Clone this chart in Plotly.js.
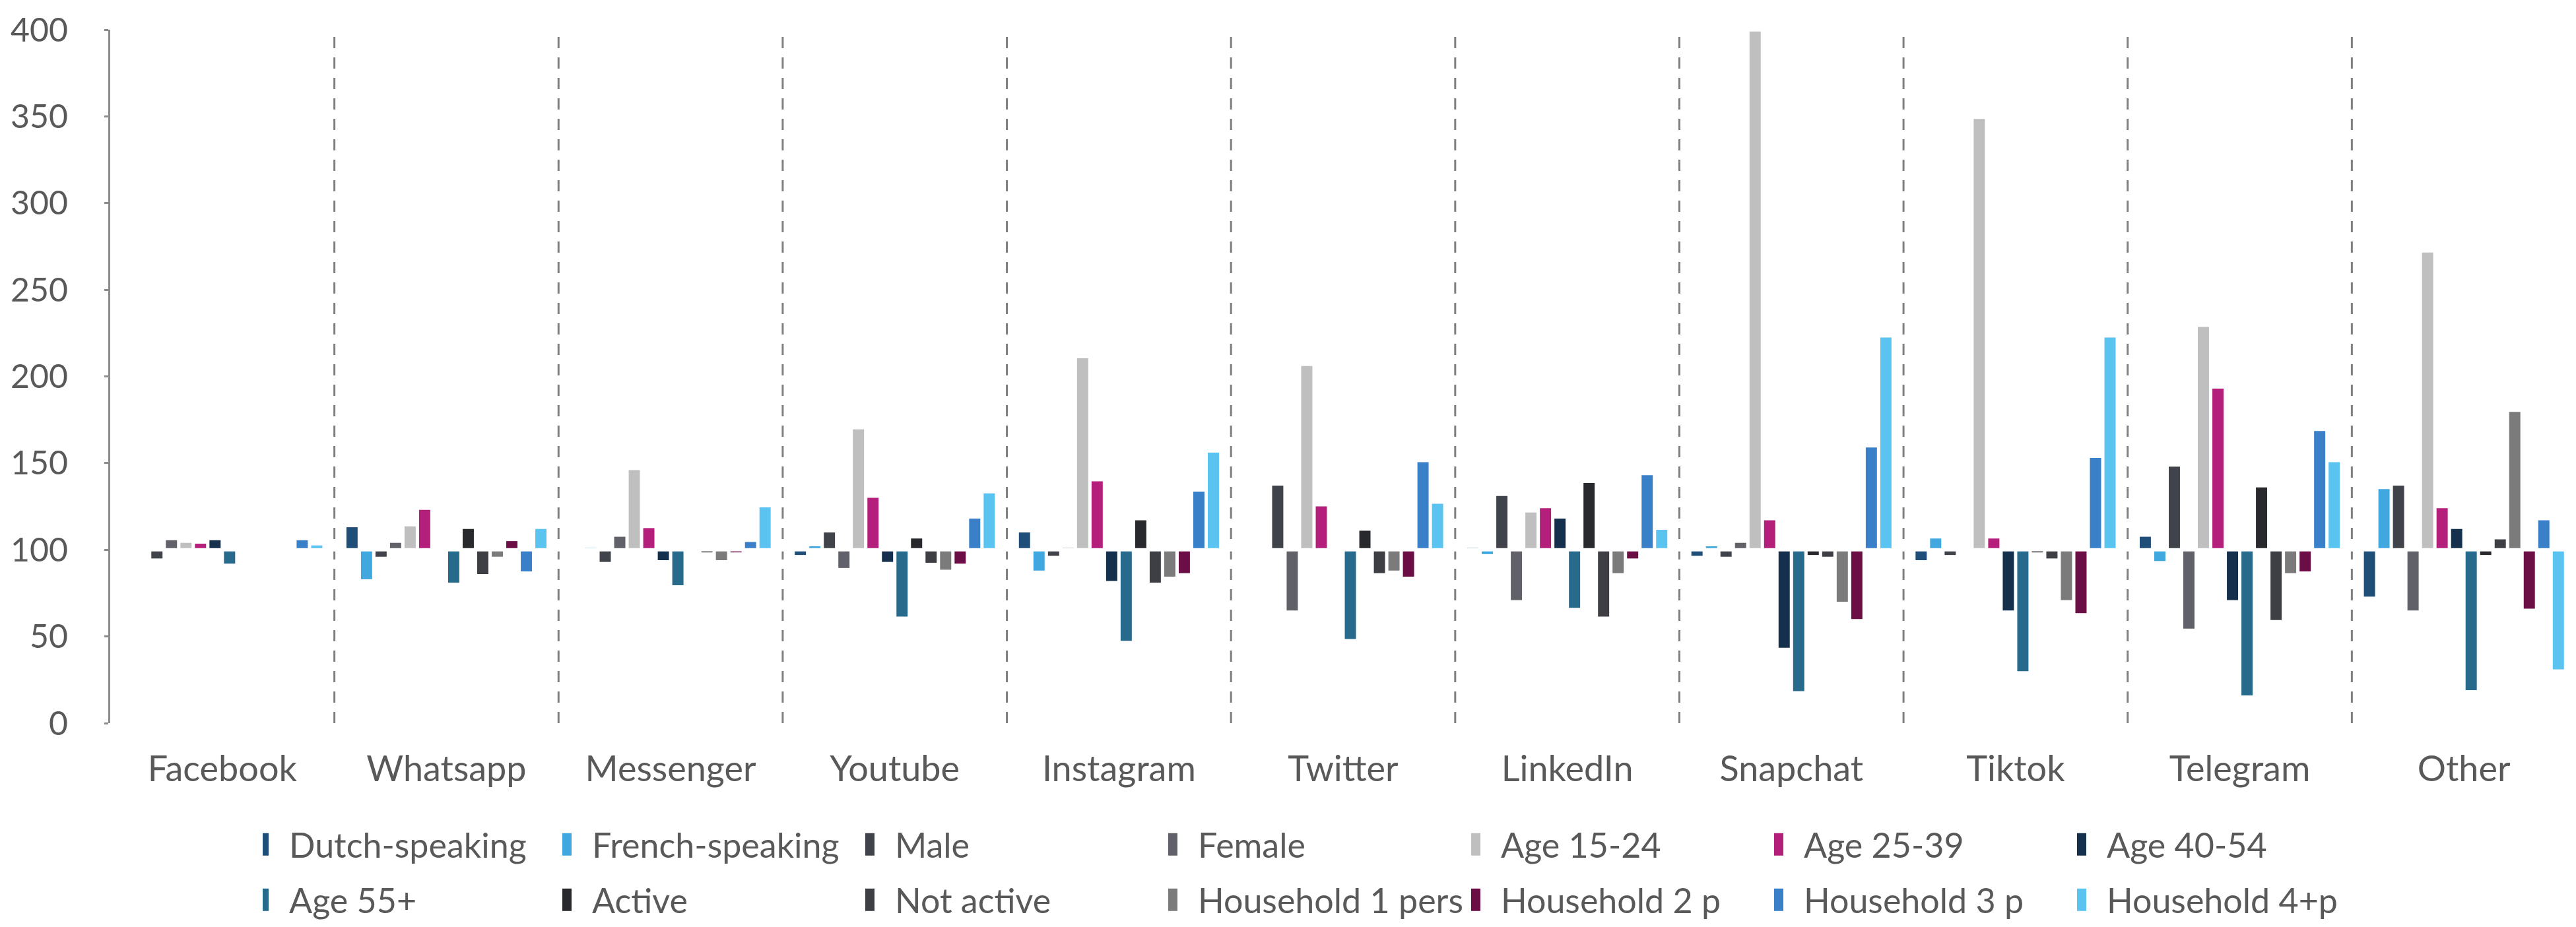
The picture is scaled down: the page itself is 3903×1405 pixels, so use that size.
<!DOCTYPE html>
<html>
<head>
<meta charset="utf-8">
<script src="https://cdn.plot.ly/plotly-3.0.1.min.js"></script>
<style>
  html, body { margin: 0; padding: 0; background: #ffffff; }
  #chart { width: 3903px; height: 1405px; }
</style>
</head>
<body>
<div id="chart"></div>
<script>
// ---------------- DATA ----------------
const categories = ['Facebook', 'Whatsapp', 'Messenger', 'Youtube', 'Instagram', 'Twitter',
                    'LinkedIn', 'Snapchat', 'Tiktok', 'Telegram', 'Other'];

const seriesNames = ['Dutch-speaking', 'French-speaking', 'Male', 'Female', 'Age 15-24',
                     'Age 25-39', 'Age 40-54', 'Age 55+', 'Active', 'Not active',
                     'Household 1 pers', 'Household 2 p', 'Household 3 p', 'Household 4+p'];

const dutchSpeaking   = [100, 113, 100, 97, 110, 100, 101, 96.5, 94, 107.5, 73];
const frenchSpeaking  = [100, 83, 101, 102, 88, 100, 97.5, 102, 106.5, 93.5, 135];
const male            = [95, 96, 93, 110, 96.5, 137, 131, 96, 97, 148, 137];
const female          = [105.5, 104, 107.5, 89.5, 101, 65, 71, 104, 100, 54.5, 65];
const age15to24       = [104, 113.5, 146, 169.5, 210.5, 206, 121.5, 399, 348.5, 228.5, 271.5];
const age25to39       = [103.5, 123, 112.5, 130, 139.5, 125, 124, 117, 106.5, 193, 124];
const age40to54       = [105.5, 100, 94, 93, 82, 100, 118, 43.5, 65, 71, 112];
const age55plus       = [92, 81, 79.5, 61.5, 47.5, 48.5, 66.5, 18.5, 30, 16, 19];
const active          = [100, 112, 100, 106.5, 117, 111, 138.5, 97, 98.5, 136, 97];
const notActive       = [100, 86, 98.5, 92.5, 81, 86.5, 61.5, 96, 95, 59.5, 106];
const household1      = [100, 96, 94, 88.5, 84.5, 88, 86.5, 70, 71, 86.5, 179.5];
const household2      = [100, 105, 98.5, 92, 86.5, 84.5, 95, 60, 63.5, 87.5, 66];
const household3      = [105.5, 87.5, 104.5, 118, 133.5, 150.5, 143, 159, 153, 168.5, 117];
const household4plus  = [102.5, 112, 124.5, 132.5, 156, 126.5, 111.5, 222.5, 222.5, 150.5, 31];

const yTickValues = [0, 50, 100, 150, 200, 250, 300, 350, 400];
const baseValue = 100;

// ---------------- STYLE ----------------
const seriesColors = ['#1F4E79', '#41A8DF', '#404349', '#606169', '#BFBFBF', '#B41F7C', '#14304C',
                      '#276A8C', '#28292C', '#3E3F44', '#7B7B7B', '#6C0E46', '#3A80C8', '#5BC3F0'];

const seriesValues = [dutchSpeaking, frenchSpeaking, male, female, age15to24, age25to39, age40to54,
                      age55plus, active, notActive, household1, household2, household3, household4plus];

const traces = seriesNames.map((name, i) => ({
  type: 'bar',
  name: name,
  x: categories,
  y: seriesValues[i].map(v => v - baseValue),
  base: baseValue,
  marker: { color: seriesColors[i], line: { width: 0 } },
  legend: i < 7 ? 'legend' : 'legend2',
  hoverinfo: 'skip'
}));

const separatorShapes = categories.slice(1).map((c, i) => ({
  type: 'line', xref: 'x', yref: 'y',
  x0: i + 0.5, x1: i + 0.5, y0: yTickValues[0], y1: yTickValues[yTickValues.length - 1],
  line: { color: '#7F7F7F', width: 3, dash: '17px,14px' },
  layer: 'below'
}));

const baseLineShape = {
  type: 'line', xref: 'paper', yref: 'y', x0: 0, x1: 1, y0: baseValue, y1: baseValue,
  line: { color: '#FFFFFF', width: 5 }, layer: 'above'
};

const fontFamily = 'Lato, "Open Sans", "Liberation Sans", sans-serif';
const textColor = '#595959';

const legendCommon = {
  orientation: 'h',
  xref: 'container', yref: 'container',
  xanchor: 'left', yanchor: 'middle',
  x: 398 / 3903,
  entrywidth: 414, entrywidthmode: 'pixels',
  font: { family: fontFamily, size: 52, color: textColor },
  bgcolor: 'rgba(0,0,0,0)', borderwidth: 0,
  traceorder: 'normal'
};

const layout = {
  width: 3903, height: 1405,
  margin: { l: 167, r: 0, t: 45, b: 309, pad: 0 },
  paper_bgcolor: '#FFFFFF', plot_bgcolor: '#FFFFFF',
  font: { family: fontFamily, color: textColor, size: 52 },
  barmode: 'group',
  bargap: 0.0925,
  bargroupgap: 0.23,
  showlegend: true,
  xaxis: {
    type: 'category', showgrid: false, zeroline: false, showline: false, ticks: '',
    tickfont: { family: fontFamily, size: 54, color: textColor },
    ticklabelstandoff: 33, fixedrange: true
  },
  yaxis: {
    range: [yTickValues[0], yTickValues[yTickValues.length - 1]],
    tickvals: yTickValues,
    showgrid: false, zeroline: false,
    showline: true, linecolor: '#8C8C8C', linewidth: 3,
    ticks: 'outside', ticklen: 6, tickwidth: 3, tickcolor: '#8C8C8C',
    tickfont: { family: fontFamily, size: 50, color: textColor },
    ticklabelstandoff: 45, fixedrange: true
  },
  legend: Object.assign({}, legendCommon, { y: 1 - 1280 / 1405 }),
  legend2: Object.assign({}, legendCommon, { y: 1 - 1364 / 1405 }),
  shapes: separatorShapes.concat([baseLineShape])
};

Plotly.newPlot('chart', traces, layout, { staticPlot: true, displayModeBar: false }).then(gd => {
  // Excel-style legend keys: narrow, tall rectangles placed further left of the text
  gd.querySelectorAll('g.legendpoints path').forEach(p => {
    p.setAttribute('d', 'M-11,17H-25V-17H-11Z');
  });
});
</script>
</body>
</html>
